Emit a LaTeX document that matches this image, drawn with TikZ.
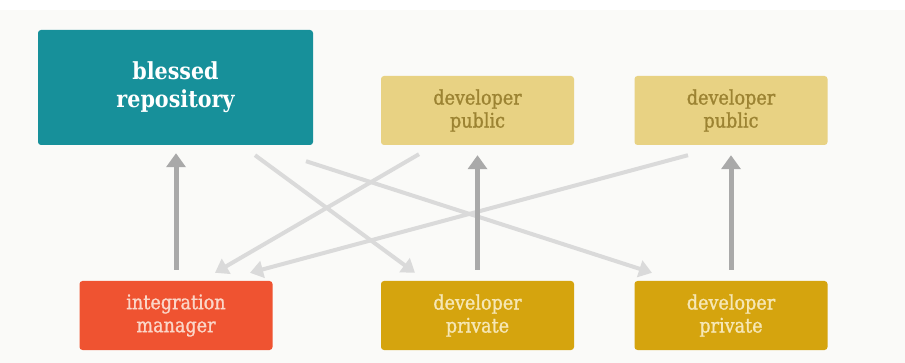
\documentclass[tikz,border=0pt]{standalone}
\usepackage{fontspec}
\setmainfont{DejaVu Serif}[FakeStretch=0.88]
\newfontfamily\labelfont{DejaVu Serif}[FakeStretch=0.88,FakeBold=1.2]
\usetikzlibrary{arrows.meta}
\definecolor{bgpaper}{HTML}{FAFAF8}
\definecolor{repoteal}{HTML}{17909A}
\definecolor{pubyellow}{HTML}{E8D283}
\definecolor{pubtext}{HTML}{9C8332}
\definecolor{privyellow}{HTML}{D5A40E}
\definecolor{privtext}{HTML}{F6E7B5}
\definecolor{integred}{HTML}{EF5331}
\definecolor{integtext}{HTML}{FBD6C8}
\definecolor{pushgray}{HTML}{A9A9A9}
\definecolor{fetchgray}{HTML}{DADADA}
\begin{document}
\begin{tikzpicture}[x=1pt,y=-1pt,
  box/.style={rounded corners=3pt,inner sep=0pt,align=center,
    minimum width=193pt,minimum height=69pt,font=\labelfont\fontsize{20}{23}\selectfont},
  pubbox/.style={box,fill=pubyellow,text=pubtext},
  privbox/.style={box,fill=privyellow,text=privtext},
  integbox/.style={box,fill=integred,text=integtext},
  repobox/.style={box,fill=repoteal,text=white,minimum width=275pt,
    minimum height=115pt,font=\fontsize{23.5}{28}\selectfont\bfseries},
  push/.style={draw=pushgray,line width=5pt,-{Triangle[width=19pt,length=14pt]}},
  fetch/.style={draw=fetchgray,line width=4pt,-{Triangle[width=17pt,length=13pt]}}]
\useasboundingbox (0,0) rectangle (905,363);
\fill[white] (0,0) rectangle (905,363);
\fill[bgpaper] (0,10) rectangle (905,363);

\node[repobox] (blessed) at (175.5,87.5) {blessed\\repository};
\node[pubbox] (pub1) at (477.5,110.5) {developer\\public};
\node[pubbox] (pub2) at (731,110.5) {developer\\public};
\node[integbox] (integ) at (176,315.5) {integration\\manager};
\node[privbox] (priv1) at (477.5,315.5) {developer\\private};
\node[privbox] (priv2) at (731,315.5) {developer\\private};

% fetches
\draw[fetch] ([xshift=79.5pt,yshift=-10pt]blessed.south) -- ([xshift=-62.5pt,yshift=8pt]priv1.north);
\draw[fetch] ([xshift=130.5pt,yshift=-16pt]blessed.south) -- ([xshift=-79pt,yshift=8pt]priv2.north);
\draw[fetch] ([xshift=-58.5pt,yshift=-9pt]pub1.south) -- ([xshift=39pt,yshift=8pt]integ.north);
\draw[fetch] ([xshift=-43pt,yshift=-10pt]pub2.south) -- ([xshift=74pt,yshift=8pt]integ.north);

% pushes
\draw[push,shorten <=11pt,shorten >=8pt] (integ.north) -- (integ.north |- blessed.south);
\draw[push,shorten <=11pt,shorten >=10pt] (priv1.north) -- (pub1.south);
\draw[push,shorten <=11pt,shorten >=10pt] (priv2.north) -- (pub2.south);
\end{tikzpicture}
\end{document}
